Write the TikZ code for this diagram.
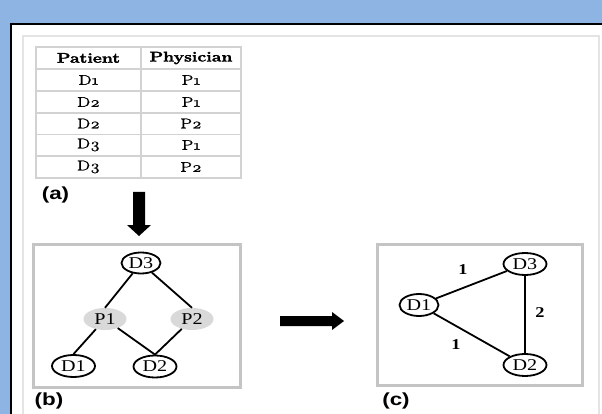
\documentclass[tikz,border=0pt]{standalone}
\usepackage{fontspec}
\usetikzlibrary{shapes.geometric}
\newfontfamily\tabfont[FakeStretch=1.26,Numbers=OldStyle,FakeBold=0.8,BoldFeatures={FakeBold=2.2}]{Latin Modern Roman}
\newfontfamily\lblfont[FakeStretch=1.28]{Liberation Sans}
\newfontfamily\gfont[FakeStretch=1.22]{Liberation Serif}
\definecolor{bgblue}{HTML}{8DB4E3}
\definecolor{framegray}{HTML}{E4E4E4}
\definecolor{tabgray}{HTML}{D2D2D2}
\definecolor{boxgray}{HTML}{C4C4C4}
\definecolor{pgray}{HTML}{D9D9D9}
\tikzset{
  tabline/.style={draw=tabgray, line width=1.5pt},
  tabhead/.style={inner sep=0pt, font=\tabfont\bfseries\fontsize{14}{16}\selectfont},
  tabcell/.style={inner sep=0pt, font=\tabfont\fontsize{14}{16}\selectfont},
  panellabel/.style={inner sep=0pt, font=\lblfont\bfseries\fontsize{17.5}{20}\selectfont},
  panelbox/.style={draw=boxgray, line width=3pt},
  dnode/.style={ellipse, draw, line width=1.8pt, inner sep=0pt, minimum width=43pt, minimum height=22pt, font=\gfont\fontsize{16.5}{18}\selectfont},
  pnode/.style={ellipse, fill=pgray, inner sep=0pt, minimum width=43pt, minimum height=22pt, font=\gfont\fontsize{16.5}{18}\selectfont},
  edge/.style={line width=1.8pt},
  wlabel/.style={inner sep=0pt, font=\gfont\bfseries\fontsize{15}{17}\selectfont},
  blockarrow/.style={fill=black}
}
\begin{document}
\begin{tikzpicture}[x=1pt,y=-1pt]
\useasboundingbox (0,0) rectangle (602,414);
\fill[bgblue] (0,0) rectangle (602,414);
\fill[white] (11,24) rectangle (602,414);
\draw[line width=2.2pt] (11,415) -- (11,24) -- (603,24);
\draw[draw=framegray, line width=1.5pt] (23,415) -- (23,36) -- (599,36) -- (599,415);

% table
\draw[tabline] (36,47) rectangle (241,178);
\foreach \yy in {69,91,113,134.5,156}{\draw[tabline] (36,\yy) -- (241,\yy);}
\draw[tabline] (141,47) -- (141,178);
\node[tabhead] (h1) at (88.5,58) {Patient};
\node[tabhead] (h2) at (191,58) {Physician};
\node[tabcell] (r1a) at (88.5,80) {D1};
\node[tabcell] (r1b) at (191,80) {P1};
\node[tabcell] (r2a) at (88.5,102) {D2};
\node[tabcell] (r2b) at (191,102) {P1};
\node[tabcell] (r3a) at (88.5,123.5) {D2};
\node[tabcell] (r3b) at (191,123.5) {P2};
\node[tabcell] (r4a) at (88.5,145) {D3};
\node[tabcell] (r4b) at (191,145) {P1};
\node[tabcell] (r5a) at (88.5,167) {D3};
\node[tabcell] (r5b) at (191,167) {P2};

\node[panellabel] (la) at (55.5,195) {(a)};

% down arrow
\fill[blockarrow] (133,192) -- (145,192) -- (145,225) -- (151,225) -- (139,236) -- (127,225) -- (133,225) -- cycle;

% panel b
\draw[panelbox] (33,244) rectangle (240,387);
\node[dnode, minimum width=39pt, minimum height=21pt] (bD3) at (141,263) {D3};
\node[pnode] (bP1) at (105,319) {P1};
\node[pnode] (bP2) at (192,319) {P2};
\node[dnode] (bD1) at (73.5,366) {D1};
\node[dnode] (bD2) at (155,366.5) {D2};
\draw[edge] (bD3) -- (bP1.north);
\draw[edge] (bD3) -- (bP2.north);
\draw[edge] (bP1) -- (bD1.north);
\draw[edge] (bP1) -- (bD2.north);
\draw[edge] (bP2) -- (bD2.north);
\node[panellabel] (lb) at (49,401) {(b)};

% right arrow
\fill[blockarrow] (280,316) -- (332,316) -- (332,312) -- (344,321) -- (332,330) -- (332,326) -- (280,326) -- cycle;

% panel c
\draw[panelbox] (377,244) rectangle (582,385);
\node[dnode] (cD3) at (525,264) {D3};
\node[dnode, minimum width=39pt] (cD1) at (419,305) {D1};
\node[dnode] (cD2) at (525,365) {D2};
\draw[edge] (cD1) -- (cD3);
\draw[edge] (cD1) -- (cD2);
\draw[edge] (cD3) -- (cD2);
\node[wlabel] (w1) at (463,270) {1};
\node[wlabel] (w2) at (456,345) {1};
\node[wlabel] (w3) at (540,313) {2};
\node[panellabel] (lc) at (396,401) {(c)};
\end{tikzpicture}
\end{document}
